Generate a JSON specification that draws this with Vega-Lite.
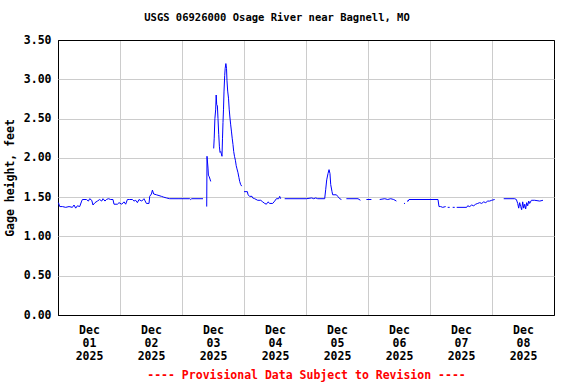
{
  "$schema": "https://vega.github.io/schema/vega-lite/v6.json",
  "width": 496,
  "height": 275,
  "autosize": {"type": "none"},
  "padding": {"left": 58, "top": 40, "right": 22, "bottom": 69},
  "background": "white",
  "title": {
    "text": "USGS 06926000 Osage River near Bagnell, MO",
    "font": "DejaVu Sans Mono",
    "fontSize": 10.5,
    "fontWeight": "bold",
    "color": "black",
    "anchor": "middle",
    "dx": -29,
    "offset": 11
  },
  "config": {
    "view": {"stroke": "black", "strokeWidth": 1},
    "axis": {
      "labelFont": "DejaVu Sans Mono",
      "labelFontWeight": "bold",
      "labelColor": "black",
      "titleFont": "DejaVu Sans Mono",
      "titleFontWeight": "bold",
      "gridOpacity": 1,
      "gridWidth": 1,
      "domain": false,
      "ticks": false
    }
  },
  "data": {
    "values": [
      {"t": "2025-12-01T00:10", "v": 1.43},
      {"t": "2025-12-01T00:40", "v": 1.38},
      {"t": "2025-12-01T01:42", "v": 1.38},
      {"t": "2025-12-01T02:59", "v": 1.37},
      {"t": "2025-12-01T04:16", "v": 1.38},
      {"t": "2025-12-01T05:34", "v": 1.37},
      {"t": "2025-12-01T06:12", "v": 1.40},
      {"t": "2025-12-01T06:51", "v": 1.36},
      {"t": "2025-12-01T07:31", "v": 1.39},
      {"t": "2025-12-01T08:24", "v": 1.38},
      {"t": "2025-12-01T09:10", "v": 1.45},
      {"t": "2025-12-01T09:27", "v": 1.47},
      {"t": "2025-12-01T11:00", "v": 1.47},
      {"t": "2025-12-01T11:46", "v": 1.45},
      {"t": "2025-12-01T12:16", "v": 1.48},
      {"t": "2025-12-01T13:03", "v": 1.46},
      {"t": "2025-12-01T13:33", "v": 1.40},
      {"t": "2025-12-01T14:19", "v": 1.43},
      {"t": "2025-12-01T15:15", "v": 1.45},
      {"t": "2025-12-01T16:08", "v": 1.47},
      {"t": "2025-12-01T16:55", "v": 1.45},
      {"t": "2025-12-01T17:25", "v": 1.48},
      {"t": "2025-12-01T18:11", "v": 1.45},
      {"t": "2025-12-01T18:44", "v": 1.47},
      {"t": "2025-12-01T19:31", "v": 1.48},
      {"t": "2025-12-01T20:24", "v": 1.47},
      {"t": "2025-12-01T21:17", "v": 1.47},
      {"t": "2025-12-01T21:41", "v": 1.41},
      {"t": "2025-12-01T23:00", "v": 1.41},
      {"t": "2025-12-01T23:37", "v": 1.43},
      {"t": "2025-12-02T00:40", "v": 1.41},
      {"t": "2025-12-02T01:33", "v": 1.44},
      {"t": "2025-12-02T02:12", "v": 1.41},
      {"t": "2025-12-02T02:52", "v": 1.47},
      {"t": "2025-12-02T03:45", "v": 1.47},
      {"t": "2025-12-02T04:48", "v": 1.47},
      {"t": "2025-12-02T05:25", "v": 1.45},
      {"t": "2025-12-02T06:05", "v": 1.46},
      {"t": "2025-12-02T06:44", "v": 1.43},
      {"t": "2025-12-02T07:21", "v": 1.47},
      {"t": "2025-12-02T08:24", "v": 1.45},
      {"t": "2025-12-02T09:17", "v": 1.48},
      {"t": "2025-12-02T10:13", "v": 1.42},
      {"t": "2025-12-02T11:14", "v": 1.42},
      {"t": "2025-12-02T11:30", "v": 1.51},
      {"t": "2025-12-02T12:10", "v": 1.54},
      {"t": "2025-12-02T12:33", "v": 1.59},
      {"t": "2025-12-02T13:03", "v": 1.54},
      {"t": "2025-12-02T14:05", "v": 1.53},
      {"t": "2025-12-02T15:06", "v": 1.52},
      {"t": "2025-12-02T16:02", "v": 1.51},
      {"t": "2025-12-02T16:55", "v": 1.50},
      {"t": "2025-12-02T17:58", "v": 1.49},
      {"t": "2025-12-02T19:14", "v": 1.48},
      {"t": "2025-12-02T22:50", "v": 1.48},
      {"t": "2025-12-03T02:59", "v": 1.48},
      {"t": "2025-12-03T03:22", "v": 1.47},
      {"t": "2025-12-03T03:45", "v": 1.48},
      {"t": "2025-12-03T08:08", "v": 1.48},
      {"t": "2025-12-03T09:00", "v": null},
      {"t": "2025-12-03T09:34", "v": 1.38},
      {"t": "2025-12-03T09:41", "v": 2.02},
      {"t": "2025-12-03T10:04", "v": 1.87},
      {"t": "2025-12-03T10:13", "v": 1.78},
      {"t": "2025-12-03T10:32", "v": 1.76},
      {"t": "2025-12-03T10:50", "v": 1.73},
      {"t": "2025-12-03T11:07", "v": 1.70},
      {"t": "2025-12-03T12:00", "v": null},
      {"t": "2025-12-03T12:16", "v": 2.12},
      {"t": "2025-12-03T12:28", "v": 2.25},
      {"t": "2025-12-03T12:44", "v": 2.50},
      {"t": "2025-12-03T13:03", "v": 2.62},
      {"t": "2025-12-03T13:14", "v": 2.80},
      {"t": "2025-12-03T13:26", "v": 2.68},
      {"t": "2025-12-03T13:42", "v": 2.66},
      {"t": "2025-12-03T13:56", "v": 2.50},
      {"t": "2025-12-03T14:13", "v": 2.30},
      {"t": "2025-12-03T14:29", "v": 2.14},
      {"t": "2025-12-03T14:43", "v": 2.07},
      {"t": "2025-12-03T14:59", "v": 2.08},
      {"t": "2025-12-03T15:15", "v": 2.05},
      {"t": "2025-12-03T15:29", "v": 2.02},
      {"t": "2025-12-03T15:41", "v": 2.25},
      {"t": "2025-12-03T15:52", "v": 2.45},
      {"t": "2025-12-03T16:04", "v": 2.62},
      {"t": "2025-12-03T16:16", "v": 2.85},
      {"t": "2025-12-03T16:32", "v": 3.05},
      {"t": "2025-12-03T16:43", "v": 3.14},
      {"t": "2025-12-03T16:59", "v": 3.20},
      {"t": "2025-12-03T17:14", "v": 3.14},
      {"t": "2025-12-03T17:25", "v": 2.98},
      {"t": "2025-12-03T17:41", "v": 2.85},
      {"t": "2025-12-03T18:00", "v": 2.76},
      {"t": "2025-12-03T18:16", "v": 2.62},
      {"t": "2025-12-03T18:32", "v": 2.52},
      {"t": "2025-12-03T18:51", "v": 2.42},
      {"t": "2025-12-03T19:10", "v": 2.33},
      {"t": "2025-12-03T19:26", "v": 2.25},
      {"t": "2025-12-03T19:44", "v": 2.17},
      {"t": "2025-12-03T20:01", "v": 2.08},
      {"t": "2025-12-03T20:19", "v": 2.02},
      {"t": "2025-12-03T20:40", "v": 1.97},
      {"t": "2025-12-03T20:59", "v": 1.90},
      {"t": "2025-12-03T21:17", "v": 1.86},
      {"t": "2025-12-03T21:41", "v": 1.81},
      {"t": "2025-12-03T22:02", "v": 1.75},
      {"t": "2025-12-03T22:20", "v": 1.70},
      {"t": "2025-12-03T22:43", "v": 1.66},
      {"t": "2025-12-03T23:07", "v": 1.64},
      {"t": "2025-12-03T23:30", "v": null},
      {"t": "2025-12-04T00:00", "v": 1.57},
      {"t": "2025-12-04T01:19", "v": 1.57},
      {"t": "2025-12-04T01:33", "v": 1.53},
      {"t": "2025-12-04T02:13", "v": 1.51},
      {"t": "2025-12-04T03:06", "v": 1.51},
      {"t": "2025-12-04T03:22", "v": 1.49},
      {"t": "2025-12-04T04:08", "v": 1.48},
      {"t": "2025-12-04T05:18", "v": 1.46},
      {"t": "2025-12-04T06:28", "v": 1.46},
      {"t": "2025-12-04T07:14", "v": 1.44},
      {"t": "2025-12-04T08:01", "v": 1.42},
      {"t": "2025-12-04T08:40", "v": 1.41},
      {"t": "2025-12-04T09:04", "v": 1.43},
      {"t": "2025-12-04T09:17", "v": 1.44},
      {"t": "2025-12-04T09:57", "v": 1.42},
      {"t": "2025-12-04T11:07", "v": 1.42},
      {"t": "2025-12-04T11:53", "v": 1.45},
      {"t": "2025-12-04T12:32", "v": 1.48},
      {"t": "2025-12-04T13:26", "v": 1.48},
      {"t": "2025-12-04T13:49", "v": 1.51},
      {"t": "2025-12-04T14:12", "v": 1.48},
      {"t": "2025-12-04T15:00", "v": null},
      {"t": "2025-12-04T15:45", "v": 1.48},
      {"t": "2025-12-05T00:10", "v": 1.48},
      {"t": "2025-12-05T02:13", "v": 1.49},
      {"t": "2025-12-05T02:59", "v": 1.48},
      {"t": "2025-12-05T03:46", "v": 1.49},
      {"t": "2025-12-05T04:32", "v": 1.48},
      {"t": "2025-12-05T07:14", "v": 1.48},
      {"t": "2025-12-05T07:38", "v": 1.60},
      {"t": "2025-12-05T08:01", "v": 1.72},
      {"t": "2025-12-05T08:31", "v": 1.80},
      {"t": "2025-12-05T08:55", "v": 1.85},
      {"t": "2025-12-05T09:17", "v": 1.80},
      {"t": "2025-12-05T09:34", "v": 1.66},
      {"t": "2025-12-05T10:04", "v": 1.57},
      {"t": "2025-12-05T10:20", "v": 1.53},
      {"t": "2025-12-05T11:46", "v": 1.53},
      {"t": "2025-12-05T12:17", "v": 1.51},
      {"t": "2025-12-05T13:03", "v": 1.48},
      {"t": "2025-12-05T13:42", "v": 1.47},
      {"t": "2025-12-05T14:30", "v": null},
      {"t": "2025-12-05T15:38", "v": 1.48},
      {"t": "2025-12-05T20:08", "v": 1.48},
      {"t": "2025-12-05T21:04", "v": 1.46},
      {"t": "2025-12-05T22:00", "v": null},
      {"t": "2025-12-05T23:23", "v": 1.47},
      {"t": "2025-12-06T01:19", "v": 1.47},
      {"t": "2025-12-06T02:30", "v": null},
      {"t": "2025-12-06T04:32", "v": 1.47},
      {"t": "2025-12-06T06:28", "v": 1.48},
      {"t": "2025-12-06T07:38", "v": 1.47},
      {"t": "2025-12-06T08:47", "v": 1.48},
      {"t": "2025-12-06T09:57", "v": 1.47},
      {"t": "2025-12-06T11:00", "v": 1.45},
      {"t": "2025-12-06T12:00", "v": null},
      {"t": "2025-12-06T13:56", "v": 1.42},
      {"t": "2025-12-06T14:20", "v": 1.42},
      {"t": "2025-12-06T14:40", "v": null},
      {"t": "2025-12-06T15:06", "v": 1.45},
      {"t": "2025-12-06T15:34", "v": 1.45},
      {"t": "2025-12-06T15:52", "v": 1.47},
      {"t": "2025-12-07T03:06", "v": 1.47},
      {"t": "2025-12-07T03:29", "v": 1.38},
      {"t": "2025-12-07T04:08", "v": 1.38},
      {"t": "2025-12-07T04:55", "v": 1.37},
      {"t": "2025-12-07T06:04", "v": 1.38},
      {"t": "2025-12-07T06:30", "v": null},
      {"t": "2025-12-07T06:51", "v": 1.37},
      {"t": "2025-12-07T07:37", "v": 1.37},
      {"t": "2025-12-07T08:00", "v": null},
      {"t": "2025-12-07T08:47", "v": 1.37},
      {"t": "2025-12-07T09:34", "v": 1.37},
      {"t": "2025-12-07T10:00", "v": null},
      {"t": "2025-12-07T10:20", "v": 1.37},
      {"t": "2025-12-07T14:12", "v": 1.37},
      {"t": "2025-12-07T14:35", "v": 1.39},
      {"t": "2025-12-07T15:22", "v": 1.38},
      {"t": "2025-12-07T16:08", "v": 1.40},
      {"t": "2025-12-07T16:55", "v": 1.39},
      {"t": "2025-12-07T17:41", "v": 1.41},
      {"t": "2025-12-07T18:28", "v": 1.42},
      {"t": "2025-12-07T19:14", "v": 1.43},
      {"t": "2025-12-07T20:01", "v": 1.42},
      {"t": "2025-12-07T20:47", "v": 1.44},
      {"t": "2025-12-07T21:34", "v": 1.43},
      {"t": "2025-12-07T22:20", "v": 1.45},
      {"t": "2025-12-07T23:07", "v": 1.45},
      {"t": "2025-12-07T23:53", "v": 1.46},
      {"t": "2025-12-08T01:02", "v": 1.47},
      {"t": "2025-12-08T02:00", "v": null},
      {"t": "2025-12-08T04:32", "v": 1.48},
      {"t": "2025-12-08T08:47", "v": 1.48},
      {"t": "2025-12-08T09:26", "v": 1.47},
      {"t": "2025-12-08T09:57", "v": 1.42},
      {"t": "2025-12-08T10:20", "v": 1.36},
      {"t": "2025-12-08T10:43", "v": 1.43},
      {"t": "2025-12-08T11:07", "v": 1.38},
      {"t": "2025-12-08T11:29", "v": 1.34},
      {"t": "2025-12-08T11:53", "v": 1.44},
      {"t": "2025-12-08T12:16", "v": 1.36},
      {"t": "2025-12-08T12:40", "v": 1.41},
      {"t": "2025-12-08T13:02", "v": 1.35},
      {"t": "2025-12-08T13:26", "v": 1.43},
      {"t": "2025-12-08T13:49", "v": 1.39},
      {"t": "2025-12-08T14:13", "v": 1.45},
      {"t": "2025-12-08T14:35", "v": 1.42},
      {"t": "2025-12-08T15:15", "v": 1.46},
      {"t": "2025-12-08T16:32", "v": 1.46},
      {"t": "2025-12-08T18:28", "v": 1.45},
      {"t": "2025-12-08T19:44", "v": 1.46}
    ]
  },
  "mark": {"type": "line", "color": "#0000ff", "strokeWidth": 1, "invalid": "break-paths-show-domains"},
  "encoding": {
    "x": {
      "field": "t",
      "type": "temporal",
      "scale": {"domain": [{"year": 2025, "month": 12, "date": 1}, {"year": 2025, "month": 12, "date": 9}]},
      "axis": {
        "values": [
          {"year": 2025, "month": 12, "date": 1},
          {"year": 2025, "month": 12, "date": 2},
          {"year": 2025, "month": 12, "date": 3},
          {"year": 2025, "month": 12, "date": 4},
          {"year": 2025, "month": 12, "date": 5},
          {"year": 2025, "month": 12, "date": 6},
          {"year": 2025, "month": 12, "date": 7},
          {"year": 2025, "month": 12, "date": 8}
        ],
        "gridColor": {"condition": {"test": "date(datum.value) == 1", "value": "black"}, "value": "#cccccc"},
        "labelExpr": "[timeFormat(datum.value, '%b'), timeFormat(datum.value, '%d'), timeFormat(datum.value, '%Y')]",
        "labelOffset": 31,
        "labelFontSize": 11.5,
        "labelLineHeight": 13,
        "labelPadding": 9,
        "labelAngle": 0,
        "labelAlign": "center",
        "labelBaseline": "top",
        "labelOverlap": false,
        "title": "---- Provisional Data Subject to Revision ----",
        "titleColor": "#ff0000",
        "titleFontSize": 11.5,
        "titlePadding": 8
      }
    },
    "y": {
      "field": "v",
      "type": "quantitative",
      "scale": {"domain": [0, 3.5], "nice": false, "zero": true},
      "axis": {
        "values": [0, 0.5, 1, 1.5, 2, 2.5, 3, 3.5],
        "gridColor": {"condition": {"test": "datum.value == 0 || datum.value == 3.5", "value": "black"}, "value": "#cccccc"},
        "format": ".2f",
        "labelFontSize": 11.5,
        "labelPadding": 7,
        "title": "Gage height, feet",
        "titleFontSize": 11.5,
        "titleColor": "black",
        "titlePadding": 8
      }
    }
  }
}
